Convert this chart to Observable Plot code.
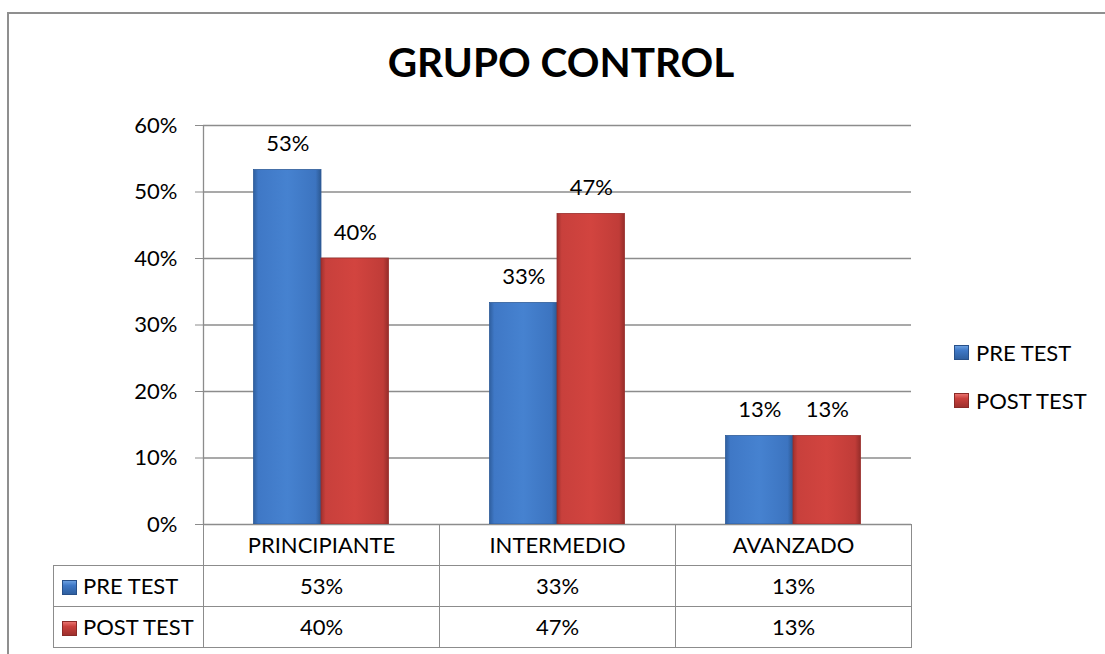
<!DOCTYPE html>
<html>
<head>
<meta charset="utf-8">
<script src="https://cdn.jsdelivr.net/npm/d3@7"></script>
<script src="https://cdn.jsdelivr.net/npm/@observablehq/plot@0.6"></script>
<style>
  html, body { margin: 0; padding: 0; background: #fff; overflow: hidden; }
  body { width: 1105px; height: 654px; position: relative; font-family: Lato, "Open Sans", sans-serif; }
  #frame { position: absolute; left: 7px; top: 12px; width: 1098px; height: 642px; border-top: 2px solid #8f8f8f; border-left: 2px solid #8f8f8f; box-sizing: border-box; }
  #title { position: absolute; left: 361px; width: 400px; top: 42px; text-align: center; font-weight: 700; font-size: 40.5px; color: #000; line-height: 1; }
  #chart { position: absolute; left: 0; top: 100px; }
  #legend { position: absolute; left: 954px; top: 339px; font-size: 22px; color: #000; }
  .li { display: flex; align-items: center; height: 26px; margin-bottom: 22px; }
  .sw { width: 15px; height: 15px; margin-right: 7px; box-sizing: border-box; flex: none; }
  #tbl { position: absolute; border-collapse: collapse; table-layout: fixed; font-size: 22px; color: #000; }
  #tbl td { border: 1.5px solid #8c8c8c; height: 40px; padding: 0; text-align: center; vertical-align: middle; white-space: nowrap; }
  #tbl td.rh { text-align: left; padding-left: 8px; }
  #tbl td.rh span.sw { display: inline-block; vertical-align: -1px; margin-right: 6px; }
  #tbl td.empty { border-top: none; border-left: none; }
</style>
</head>
<body>
<div id="frame"></div>
<div id="title">GRUPO CONTROL</div>
<div id="chart"></div>
<div id="legend"></div>
<script>
// ---- data ----
const categories = ["PRINCIPIANTE", "INTERMEDIO", "AVANZADO"];
const series = ["PRE TEST", "POST TEST"];
const preTest = [0.533, 0.333, 0.133];
const postTest = [0.400, 0.467, 0.133];
const yTicks = [0, 0.1, 0.2, 0.3, 0.4, 0.5, 0.6];

const seriesValues = [preTest, postTest];
const rows = [];
series.forEach((s, si) => categories.forEach((c, ci) => rows.push({category: c, series: s, value: seriesValues[si][ci]})));
const fmt = d3.format(".0%");

// ---- layout / style ----
const W = 1105, H = 440, mL = 203, mR = 194, mT = 25, mB = 16;
const bw = (W - mL - mR) / categories.length;
const barW = bw * 0.286;
const gap = (bw - 2 * barW) / 2;
const fills = ["url(#gBlue)", "url(#gRed)"];
const swatchCss = [
  "linear-gradient(180deg,#6a9fe0 0%,#3f78c6 35%,#2f5f9f 100%)",
  "linear-gradient(180deg,#e8716d 0%,#c9403c 35%,#9e302d 100%)"
];
const FS = 22;

const marks = [
  Plot.gridY(yTicks, {stroke: "#8c8c8c", strokeOpacity: 1, strokeWidth: 1.3}),
  Plot.axisY(yTicks, {tickFormat: fmt, tickSize: 8, tickPadding: 18, stroke: "#8c8c8c", fontSize: FS, fill: "#000", label: null}),
  Plot.ruleX([categories[0]], {dx: -bw / 2, stroke: "#8c8c8c", strokeWidth: 1.3})
];
series.forEach((s, si) => {
  const data = rows.filter(d => d.series === s);
  const insetLeft = si === 0 ? gap : gap + barW;
  const insetRight = bw - insetLeft - barW;
  marks.push(Plot.barY(data, {x: "category", y: "value", fill: fills[si], insetLeft, insetRight,
    stroke: si === 0 ? "#2d5b98" : "#9a2f2c", strokeWidth: 0.8}));
  marks.push(Plot.text(data, {x: "category", y: "value", text: d => fmt(d.value),
    dx: (si === 0 ? -1 : 1) * barW / 2, dy: -19, lineAnchor: "bottom", fontSize: FS, fill: "#000"}));
});

const chart = Plot.plot({
  width: W, height: H,
  marginLeft: mL, marginRight: mR, marginTop: mT, marginBottom: mB,
  style: {background: "transparent", fontFamily: "Lato, 'Open Sans', sans-serif", overflow: "visible"},
  x: {domain: categories, padding: 0, axis: null},
  y: {domain: [0, 0.6], axis: null},
  marks
});

// gradients for the bevelled bars
const svg = d3.select(chart.tagName === "svg" ? chart : chart.querySelector("svg"));
const defs = svg.insert("defs", ":first-child");
function grad(id, stops) {
  const g = defs.append("linearGradient").attr("id", id).attr("x1", 0).attr("x2", 1).attr("y1", 0).attr("y2", 0);
  stops.forEach(([o, c]) => g.append("stop").attr("offset", o).attr("stop-color", c));
}
grad("gBlue", [[0, "#2f5f9f"], [0.07, "#3f78c6"], [0.5, "#4682d0"], [0.92, "#3c74c0"], [1, "#2c5993"]]);
grad("gRed", [[0, "#a0312e"], [0.07, "#c8403c"], [0.5, "#d2443f"], [0.92, "#c03c38"], [1, "#962d2a"]]);
document.getElementById("chart").appendChild(chart);

// legend
const legend = document.getElementById("legend");
series.forEach((s, si) => {
  const item = document.createElement("div");
  item.className = "li";
  item.innerHTML = `<span class="sw" style="background:${swatchCss[si]};border:1px solid ${si ? '#8a2a27' : '#285089'}"></span><span>${s}</span>`;
  legend.appendChild(item);
});

// data table aligned to the x scale
const xs = chart.scale("x");
const ys = chart.scale("y");
const chartTop = 100;
const tbl = document.createElement("table");
tbl.id = "tbl";
const headW = 150;
tbl.style.left = (xs.range[0] - headW) + "px";
tbl.style.top = (chartTop + ys.apply(0) - 0.5) + "px";
const cg = document.createElement("colgroup");
[headW, ...categories.map(() => xs.step)].forEach(w => { const c = document.createElement("col"); c.style.width = w + "px"; cg.appendChild(c); });
tbl.appendChild(cg);
tbl.style.width = (headW + xs.step * categories.length) + "px";
const tr0 = document.createElement("tr");
tr0.innerHTML = `<td class="empty"></td>` + categories.map(c => `<td>${c}</td>`).join("");
tbl.appendChild(tr0);
series.forEach((s, si) => {
  const tr = document.createElement("tr");
  tr.innerHTML = `<td class="rh"><span class="sw" style="background:${swatchCss[si]};border:1px solid ${si ? '#8a2a27' : '#285089'}"></span>${s}</td>` +
    seriesValues[si].map(v => `<td>${fmt(v)}</td>`).join("");
  tbl.appendChild(tr);
});
document.body.appendChild(tbl);
</script>
</body>
</html>
